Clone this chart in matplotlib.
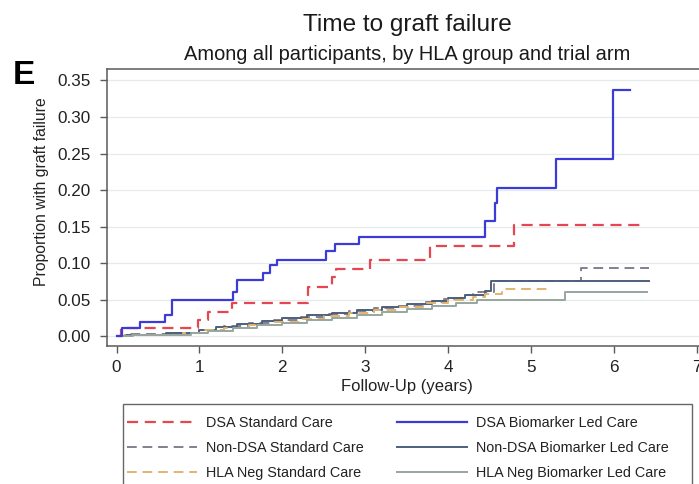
import matplotlib
matplotlib.use("Agg")
import matplotlib.pyplot as plt
from matplotlib.patches import Rectangle

plt.rcParams["font.family"] = ["Liberation Sans", "DejaVu Sans"]

# Cumulative incidence step curves (event times in years, proportion after step)
dsa_std_t = [0.0, 0.05, 0.98, 1.10, 1.39, 2.31, 2.60, 2.65, 3.06, 3.78, 4.79]
dsa_std_p = [0.0, 0.012, 0.022, 0.033, 0.045, 0.068, 0.081, 0.092, 0.104, 0.123, 0.152]
dsa_std_end = 6.35

dsa_bio_t = [0.0, 0.07, 0.28, 0.58, 0.67, 1.41, 1.45, 1.77, 1.85, 1.93, 2.53, 2.64,
             2.92, 4.45, 4.57, 4.59, 5.30, 5.99]
dsa_bio_p = [0.0, 0.011, 0.019, 0.029, 0.049, 0.060, 0.077, 0.087, 0.097, 0.105, 0.116, 0.126,
             0.136, 0.157, 0.182, 0.203, 0.243, 0.337]
dsa_bio_end = 6.20

nondsa_std_t = [0.0, 0.15, 0.70, 1.05, 1.30, 1.60, 1.90, 2.20, 2.50, 2.80, 3.10, 3.40,
                3.70, 3.95, 4.15, 4.30, 4.55, 5.60]
nondsa_std_p = [0.0, 0.003, 0.005, 0.009, 0.014, 0.018, 0.022, 0.026, 0.030, 0.034, 0.038, 0.042,
                0.047, 0.051, 0.056, 0.060, 0.075, 0.093]
nondsa_std_end = 6.42

nondsa_bio_t = [0.0, 0.10, 0.60, 1.00, 1.20, 1.45, 1.75, 2.00, 2.30, 2.60, 2.90, 3.20,
                3.50, 3.80, 4.00, 4.20, 4.45, 4.52]
nondsa_bio_p = [0.0, 0.002, 0.004, 0.008, 0.013, 0.017, 0.021, 0.025, 0.029, 0.032, 0.036, 0.040,
                0.044, 0.048, 0.052, 0.056, 0.062, 0.075]
nondsa_bio_end = 6.42

hlaneg_std_t = [0.0, 0.10, 0.80, 1.05, 1.30, 1.60, 1.90, 2.20, 2.50, 2.80, 3.10, 3.40,
                3.70, 4.00, 4.30, 4.45, 4.65]
hlaneg_std_p = [0.0, 0.002, 0.004, 0.008, 0.012, 0.016, 0.020, 0.024, 0.028, 0.032, 0.036, 0.040,
                0.045, 0.050, 0.054, 0.058, 0.064]
hlaneg_std_end = 5.20

hlaneg_bio_t = [0.0, 0.20, 0.90, 1.10, 1.40, 1.70, 2.00, 2.30, 2.60, 2.90, 3.20, 3.50,
                3.80, 4.10, 4.35, 5.41]
hlaneg_bio_p = [0.0, 0.002, 0.004, 0.007, 0.011, 0.015, 0.018, 0.022, 0.025, 0.029, 0.033, 0.037,
                0.041, 0.045, 0.049, 0.061]
hlaneg_bio_end = 6.40

x_ticks = [0, 1, 2, 3, 4, 5, 6, 7]
y_ticks = [0.00, 0.05, 0.10, 0.15, 0.20, 0.25, 0.30, 0.35]

# (label, times, props, end, colour, style, width)
series = [
    ("Non-DSA Standard Care", nondsa_std_t, nondsa_std_p, nondsa_std_end, "#857d90", (0, (5, 3)), 1.4),
    ("Non-DSA Biomarker Led Care", nondsa_bio_t, nondsa_bio_p, nondsa_bio_end, "#4c5f7c", "-", 1.4),
    ("HLA Neg Standard Care", hlaneg_std_t, hlaneg_std_p, hlaneg_std_end, "#e2b46c", (0, (5, 3)), 1.4),
    ("HLA Neg Biomarker Led Care", hlaneg_bio_t, hlaneg_bio_p, hlaneg_bio_end, "#97a69f", "-", 1.4),
    ("DSA Standard Care", dsa_std_t, dsa_std_p, dsa_std_end, "#e4474f", (0, (5, 3)), 1.6),
    ("DSA Biomarker Led Care", dsa_bio_t, dsa_bio_p, dsa_bio_end, "#3b3bd8", "-", 1.6),
]
# legend fills column by column: standard care left, biomarker led right
legend_order = ["DSA Standard Care", "Non-DSA Standard Care", "HLA Neg Standard Care",
                "DSA Biomarker Led Care", "Non-DSA Biomarker Led Care",
                "HLA Neg Biomarker Led Care"]

W, H = 699, 484
fig = plt.figure(figsize=(W / 100, H / 100), dpi=100)
ax = fig.add_axes([107 / W, 1 - 346 / H, 600 / W, 277 / H])

handles = {}
for label, t, p, end, color, ls, lw in series:
    line, = ax.step(t + [end], p + [p[-1]], where="post", color=color,
                    linestyle=ls, linewidth=lw, label=label)
    handles[label] = line

ax.set_xlim(-0.115, 7.123)
ax.set_ylim(-0.0133, 0.3656)
ax.set_xticks(x_ticks)
ax.set_yticks(y_ticks)
ax.set_yticklabels([f"{v:.2f}" for v in y_ticks])
ax.grid(axis="y", color="#e6eaee", linewidth=0.9)
ax.set_axisbelow(True)
for s in ax.spines.values():
    s.set_color("#5a5a5a")
    s.set_linewidth(1.1)
ax.tick_params(axis="both", direction="out", length=5, width=1, color="#5a5a5a",
               labelsize=12.3, labelcolor="#222222")
ax.tick_params(axis="y", pad=7)
ax.tick_params(axis="x", pad=5)
ax.set_xlabel("Follow-Up (years)", fontsize=12, labelpad=3, color="#222222")

fig.text(42 / W, 1 - 192 / H, "Proportion with graft failure", rotation=90,
         ha="center", va="center", fontsize=11.3, color="#222222")
fig.text(407 / W, 1 - 25 / H, "Time to graft failure", ha="center", va="center",
         fontsize=17.6, color="#1a1a1a")
fig.text(407 / W, 1 - 55 / H, "Among all participants, by HLA group and trial arm",
         ha="center", va="center", fontsize=14.4, color="#1a1a1a")
fig.text(13 / W, 1 - 84 / H, "E", ha="left", va="baseline", fontsize=24,
         fontweight="bold", color="black")

# legend box
fig.patches.append(Rectangle((122.7 / W, 1 - 494 / H), (692 - 122.7) / W, 90 / H,
                             transform=fig.transFigure, fill=False,
                             edgecolor="#666666", linewidth=1.0))
fig.legend([handles[k] for k in legend_order], legend_order, ncol=2,
           loc="upper left", bbox_to_anchor=(127 / W, 1 - 416 / H),
           frameon=False, fontsize=10.4, borderpad=0, borderaxespad=0,
           handlelength=4.85, handletextpad=0.6, columnspacing=2.35,
           labelspacing=0.75, labelcolor="#222222")

fig.savefig("out.png", dpi=100)
